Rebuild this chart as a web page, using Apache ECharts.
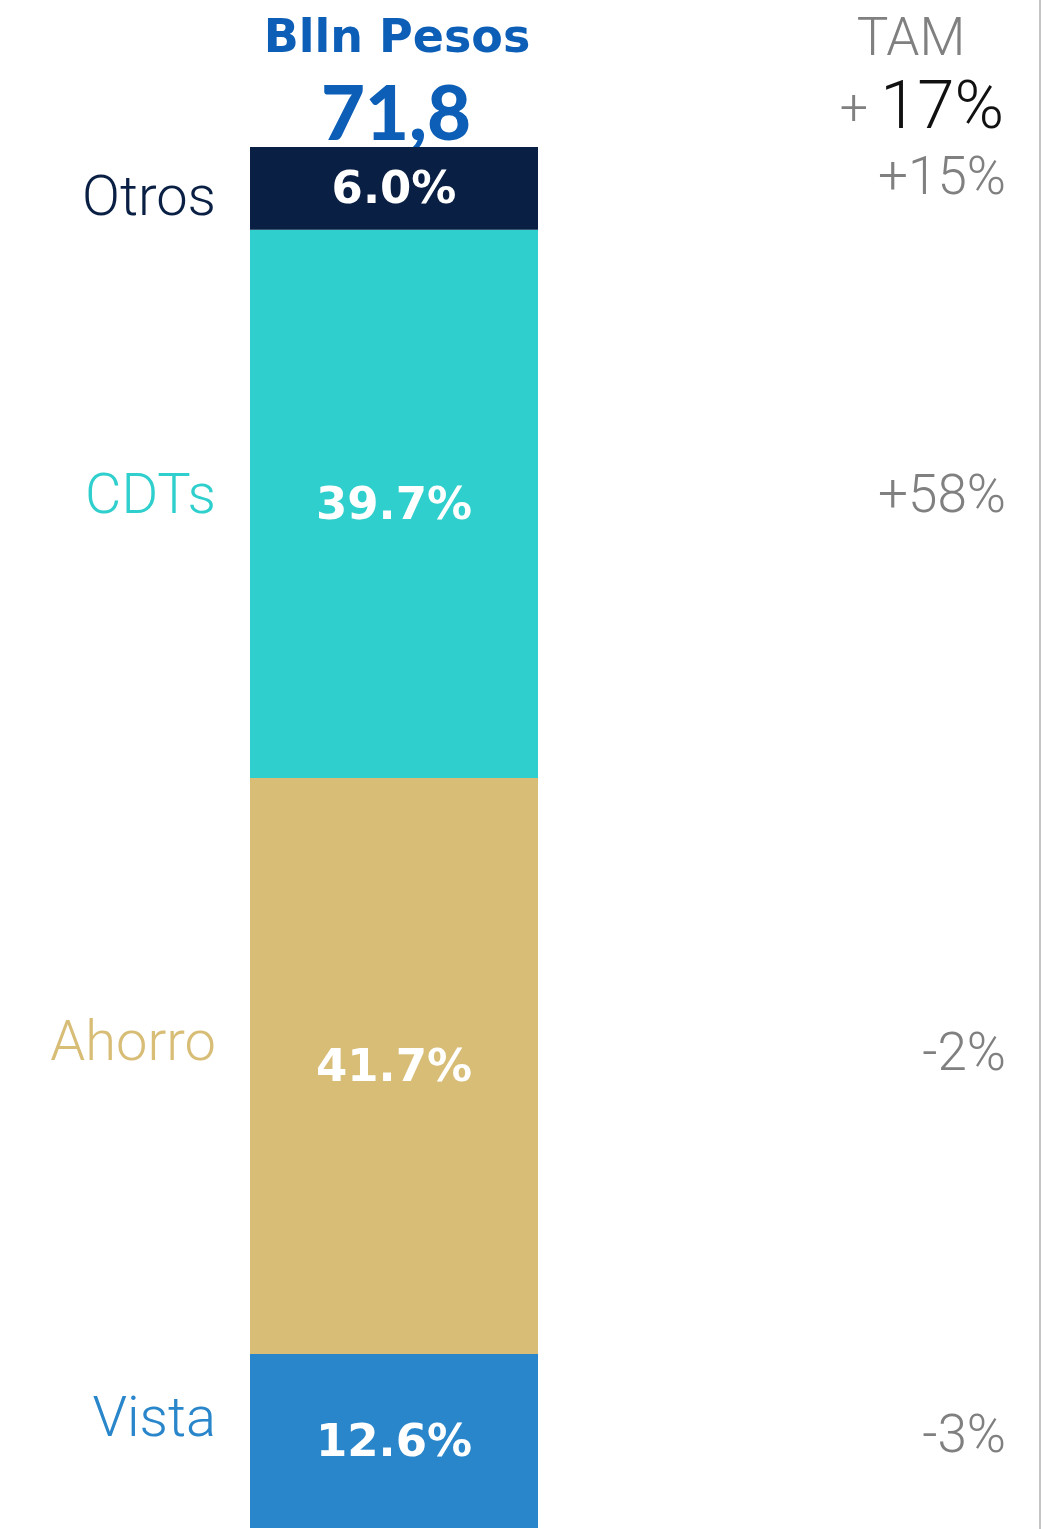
<!DOCTYPE html>
<html>
<head>
<meta charset="utf-8">
<script src="https://cdn.jsdelivr.net/npm/echarts@6/dist/echarts.min.js"></script>
<style>
  html, body { margin: 0; padding: 0; background: #fff; }
  #chart { width: 1042px; height: 1529px; }
</style>
</head>
<body>
<div id="chart"></div>
<script>
// categories bottom -> top, as they are stacked
var categories = ['Vista', 'Ahorro', 'CDTs', 'Otros'];
var shares = [12.6, 41.7, 39.7, 6.0];
var tamLabels = ['-3%', '-2%', '+58%', '+15%'];
var colors = ['#2a86ca', '#d8bd77', '#2ecfcc', '#0a1f44'];

var totalText = '71,8';
var unitText = 'Blln Pesos';
var tamTitle = 'TAM';
var tamTotal = '17%';

// small vertical nudges for the side texts (px)
var nameNudge = [-19, -20, -5, 13];
var tamNudge = [-2, -9, -5, -8];

var lightFont = 'Roboto';
var boldFont = 'DejaVu Sans';

var series = [];
var cum = 0;
for (var i = 0; i < categories.length; i++) {
    var mid = cum + shares[i] / 2;
    cum += shares[i];
    series.push({
        name: categories[i],
        type: 'bar',
        stack: 'total',
        barWidth: '100%',
        data: [shares[i]],
        itemStyle: { color: colors[i] },
        label: {
            show: true,
            position: 'inside',
            offset: [0, 3],
            formatter: function (p) { return p.value.toFixed(1) + '%'; },
            color: '#fff',
            fontFamily: boldFont,
            fontWeight: 'bold',
            fontSize: 45
        },
        markPoint: {
            symbol: 'rect',
            symbolSize: 0,
            silent: true,
            data: [{
                coord: [0, mid],
                label: {
                    show: true,
                    position: 'inside',
                    formatter: categories[i],
                    align: 'right',
                    verticalAlign: 'middle',
                    offset: [-178, nameNudge[i]],
                    color: colors[i],
                    fontFamily: lightFont,
                    fontWeight: 300,
                    fontSize: 56
                }
            }, {
                coord: [0, mid],
                label: {
                    show: true,
                    position: 'inside',
                    formatter: tamLabels[i],
                    align: 'right',
                    verticalAlign: 'middle',
                    offset: [612, tamNudge[i]],
                    color: '#808080',
                    fontFamily: lightFont,
                    fontWeight: 300,
                    fontSize: 53
                }
            }]
        }
    });
}

var option = {
    backgroundColor: '#FFFFFF',
    animation: false,
    grid: {
        left: 250,
        width: 288,
        top: 147,
        bottom: 1
    },
    xAxis: {
        type: 'category',
        data: [''],
        show: false
    },
    yAxis: {
        type: 'value',
        min: 0,
        max: 100,
        show: false
    },
    graphic: [
        {
            type: 'text', x: 397, y: 40,
            style: {
                text: unitText, align: 'center', verticalAlign: 'middle',
                font: 'bold 46px "DejaVu Sans"', fill: '#0c5eb6'
            }
        },
        {
            type: 'text', x: 396, y: 115,
            style: {
                text: totalText, align: 'center', verticalAlign: 'middle',
                font: '900 76px Lato', fill: '#0c5eb6'
            }
        },
        {
            type: 'text', x: 911, y: 42,
            style: {
                text: tamTitle, align: 'center', verticalAlign: 'middle',
                font: '300 53px Roboto', fill: '#808080'
            }
        },
        {
            type: 'text', x: 1004, y: 111,
            style: {
                text: '{p|+ }{b|' + tamTotal + '}', align: 'right', verticalAlign: 'middle',
                rich: {
                    p: { fontFamily: 'Roboto', fontWeight: 300, fontSize: 50, fill: '#808080', color: '#808080' },
                    b: { fontFamily: 'Roboto', fontWeight: 300, fontSize: 67, fill: '#111', color: '#111' }
                }
            }
        },
        {
            type: 'rect',
            shape: { x: 1039, y: 0, width: 2, height: 1529 },
            style: { fill: '#c4c4c4' }
        }
    ],
    series: series
};

var myChart = echarts.init(document.getElementById('chart'));
myChart.setOption(option);
</script>
</body>
</html>
